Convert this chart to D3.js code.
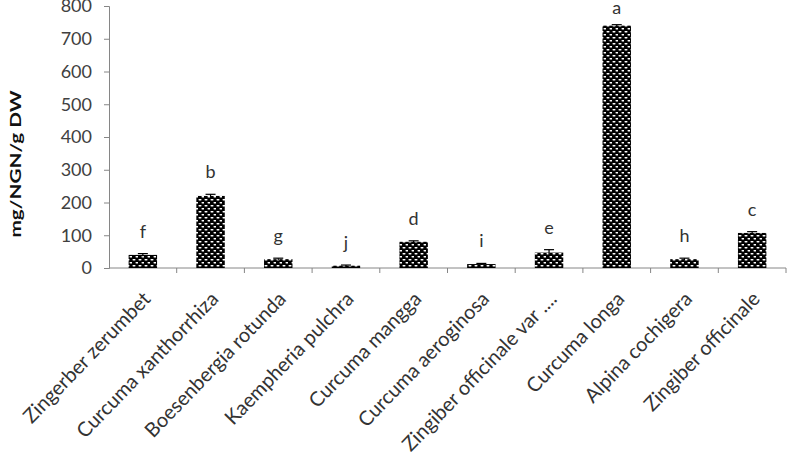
<!DOCTYPE html>
<html><head><meta charset="utf-8">
<script src="https://cdn.jsdelivr.net/npm/d3@7"></script>
<style>body{margin:0;background:#fff}svg{display:block}</style>
</head><body>
<script>
const categories = ["Zingerber zerumbet","Curcuma xanthorrhiza","Boesenbergia rotunda","Kaempheria pulchra","Curcuma mangga","Curcuma aeroginosa","Zingiber officinale var ....","Curcuma longa","Alpina cochigera","Zingiber officinale"];
const values = [40, 220, 27, 7, 80, 12, 47, 740, 27, 107];
const errors = [4, 5, 3, 2, 3, 2, 9, 3, 3, 4];
const letters = ["f","b","g","j","d","i","e","a","h","c"];
const yTicks = [0,100,200,300,400,500,600,700,800];

const W = 787, H = 455;
const svg = d3.select("body").append("svg").attr("width", W).attr("height", H);
const defs = svg.append("defs");
const pat = defs.append("pattern").attr("id","dots").attr("patternUnits","userSpaceOnUse")
  .attr("width",6).attr("height",6);
pat.append("rect").attr("width",6).attr("height",6).attr("fill","#000");
pat.append("rect").attr("x",0.5).attr("y",1).attr("width",3).attr("height",1.4).attr("fill","#fff").attr("rx",0.6);
pat.append("rect").attr("x",3.5).attr("y",4).attr("width",3).attr("height",1.4).attr("fill","#fff").attr("rx",0.6);

const x0 = 109, x1 = 786, yTop = 6, yBot = 268;
const x = d3.scaleBand().domain(categories).range([x0, x1]).paddingInner(0.58).paddingOuter(0.29);
const xb = d3.scaleBand().domain(categories).range([x0, x1]);
const y = d3.scaleLinear().domain([0, 800]).range([yBot, yTop]);
const axisColor = "#868686";
const font = "Lato, 'Open Sans', sans-serif";

// y axis
const ya = svg.append("g").attr("transform", `translate(${x0},0)`)
  .call(d3.axisLeft(y).tickValues(yTicks).tickSize(5).tickPadding(12));
ya.selectAll("path,line").attr("stroke", axisColor);
ya.selectAll("text").attr("font-family", font).attr("font-size", 18).attr("fill", "#404040");

// x axis
const xg = svg.append("g");
xg.append("line").attr("x1", x0).attr("x2", x1).attr("y1", yBot).attr("y2", yBot).attr("stroke", axisColor);
const bounds = categories.map(c => xb(c) + xb.bandwidth());
xg.selectAll("line.t").data(bounds).enter().append("line").attr("class","t")
  .attr("x1", d => d).attr("x2", d => d).attr("y1", yBot).attr("y2", yBot + 5).attr("stroke", axisColor);

// bars
svg.selectAll("rect.bar").data(categories).enter().append("rect").attr("class","bar")
  .attr("x", d => x(d)).attr("width", x.bandwidth())
  .attr("y", (d,i) => y(values[i])).attr("height", (d,i) => yBot - y(values[i]))
  .attr("fill", "url(#dots)");

// error bars
const eb = svg.append("g").attr("stroke", "#000").attr("stroke-width", 1.2);
categories.forEach((c,i) => {
  const cx = x(c) + x.bandwidth()/2;
  eb.append("line").attr("x1", cx).attr("x2", cx).attr("y1", y(values[i]-errors[i])).attr("y2", y(values[i]+errors[i]));
  eb.append("line").attr("x1", cx-5).attr("x2", cx+5).attr("y1", y(values[i]+errors[i])).attr("y2", y(values[i]+errors[i]));
});

// letters
svg.selectAll("text.lab").data(categories).enter().append("text").attr("class","lab")
  .attr("x", d => x(d) + x.bandwidth()/2)
  .attr("y", (d,i) => Math.max(14, y(values[i] + errors[i]) - 16))
  .attr("text-anchor","middle").attr("font-family", font).attr("font-size", 18).attr("fill","#333")
  .text((d,i) => letters[i]);

// category labels
svg.selectAll("text.cat").data(categories).enter().append("text").attr("class","cat")
  .attr("transform", d => `translate(${x(d) + x.bandwidth()/2 + 9},${yBot + 32}) rotate(-46)`)
  .attr("text-anchor","end").attr("font-family", font).attr("font-size", 20).attr("fill","#333")
  .text(d => d);

// y title
svg.append("text").attr("transform", `translate(21,164) rotate(-90)`)
  .attr("text-anchor","middle").attr("font-family", font).attr("font-size", 16).attr("font-weight","bold")
  .attr("textLength", 147).attr("lengthAdjust","spacingAndGlyphs")
  .attr("fill","#111").text("mg/NGN/g DW");
</script>
</body></html>
